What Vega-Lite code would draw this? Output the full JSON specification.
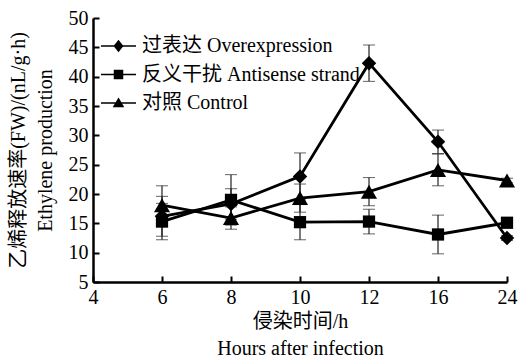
{
  "$schema": "https://vega.github.io/schema/vega-lite/v6.json",
  "autosize": {"type": "none"},
  "width": 414,
  "height": 264,
  "padding": {"left": 93, "top": 18, "right": 11, "bottom": 78},
  "background": "white",
  "config": {
    "font": "Liberation Serif, Noto Sans CJK SC",
    "view": {"stroke": null},
    "axis": {
      "labelFont": "Liberation Serif, Noto Sans CJK SC",
      "titleFont": "Liberation Serif, Noto Sans CJK SC",
      "labelFontSize": 20,
      "titleFontSize": 20,
      "titleFontWeight": "normal",
      "labelColor": "black",
      "titleColor": "black",
      "domainColor": "black",
      "domainWidth": 2.5,
      "tickColor": "black",
      "tickWidth": 2,
      "tickSize": -6,
      "grid": false,
      "titleLineHeight": 27
    },
    "legend": {
      "labelFont": "Liberation Serif, Noto Sans CJK SC",
      "labelFontSize": 20,
      "labelColor": "black",
      "labelLimit": 0
    }
  },
  "data": {
    "values": [
      {"h": "6", "series": "过表达 Overexpression", "v": 16.2, "err": 3.4},
      {"h": "8", "series": "过表达 Overexpression", "v": 18.3, "err": 2.6},
      {"h": "10", "series": "过表达 Overexpression", "v": 23.0, "err": 4.0},
      {"h": "12", "series": "过表达 Overexpression", "v": 42.3, "err": 3.1},
      {"h": "16", "series": "过表达 Overexpression", "v": 28.9, "err": 2.0},
      {"h": "24", "series": "过表达 Overexpression", "v": 12.5, "err": 0.4},
      {"h": "6", "series": "反义干扰 Antisense strand", "v": 15.3, "err": 3.1},
      {"h": "8", "series": "反义干扰 Antisense strand", "v": 19.0, "err": 4.3},
      {"h": "10", "series": "反义干扰 Antisense strand", "v": 15.2, "err": 3.0},
      {"h": "12", "series": "反义干扰 Antisense strand", "v": 15.3, "err": 2.1},
      {"h": "16", "series": "反义干扰 Antisense strand", "v": 13.1, "err": 3.3},
      {"h": "24", "series": "反义干扰 Antisense strand", "v": 15.1, "err": 0.4},
      {"h": "6", "series": "对照 Control", "v": 18.1, "err": 3.3},
      {"h": "8", "series": "对照 Control", "v": 15.9, "err": 1.9},
      {"h": "10", "series": "对照 Control", "v": 19.3, "err": 2.4},
      {"h": "12", "series": "对照 Control", "v": 20.4, "err": 2.4},
      {"h": "16", "series": "对照 Control", "v": 24.1, "err": 2.7},
      {"h": "24", "series": "对照 Control", "v": 22.3, "err": 0.4}
    ]
  },
  "encoding": {
    "x": {
      "field": "h",
      "type": "ordinal",
      "scale": {"type": "point", "domain": ["4", "6", "8", "10", "12", "16", "24"], "padding": 0},
      "axis": {"labelAngle": 0, "labelPadding": 11, "title": ["侵染时间/h", "Hours after infection"], "titlePadding": 4}
    },
    "y": {
      "field": "v",
      "type": "quantitative",
      "scale": {"domain": [5, 50], "nice": false, "zero": false},
      "axis": {"values": [5, 10, 15, 20, 25, 30, 35, 40, 45, 50], "labelPadding": 11, "title": ["乙烯释放速率(FW)/(nL/g·h)", "Ethylene production"], "titlePadding": 13}
    }
  },
  "resolve": {"scale": {"shape": "independent"}, "legend": {"shape": "independent"}},
  "layer": [
    {
      "mark": {"type": "errorbar", "ticks": {"size": 12, "color": "#222", "strokeWidth": 1.2}, "rule": {"color": "#222", "strokeWidth": 1.2}},
      "encoding": {
        "yError": {"field": "err"},
        "detail": {"field": "series"}
      }
    },
    {
      "mark": {"type": "line", "color": "black", "strokeWidth": 2.8},
      "encoding": {"detail": {"field": "series"}}
    },
    {
      "mark": {"type": "point", "filled": true, "color": "black", "opacity": 1},
      "encoding": {
        "shape": {
          "field": "series",
          "type": "nominal",
          "scale": {"domain": ["过表达 Overexpression", "反义干扰 Antisense strand", "对照 Control"], "range": ["diamond", "square", "triangle-up"]},
          "legend": null
        },
        "size": {
          "condition": [
            {"test": "datum.series === '过表达 Overexpression'", "value": 210},
            {"test": "datum.series === '反义干扰 Antisense strand'", "value": 150}
          ],
          "value": 260
        }
      }
    },
    {
      "mark": {"type": "point", "filled": true, "color": "black", "stroke": "black", "strokeWidth": 2.5, "opacity": 0},
      "encoding": {
        "shape": {
          "field": "series",
          "type": "nominal",
          "scale": {"domain": ["过表达 Overexpression", "反义干扰 Antisense strand", "对照 Control"], "range": ["M-1.75,0L1.75,0M0,-0.5L0.4,0L0,0.5L-0.4,0Z", "M-1.75,0L1.75,0M-0.4,-0.4L0.4,-0.4L0.4,0.4L-0.4,0.4Z", "M-1.75,0L1.75,0M0,-0.4L0.45,0.35L-0.45,0.35Z"]},
          "legend": {
            "title": null,
            "orient": "none",
            "legendX": 14.5,
            "legendY": 17,
            "padding": 0,
            "rowPadding": 7.5,
            "labelOffset": 12.5,
            "symbolSize": 400,
            "encode": {
              "symbols": {
                "update": {
                  "size": {"value": 400},
                  "fill": {"value": "black"},
                  "fillOpacity": {"value": 1},
                  "stroke": {"value": "black"},
                  "strokeWidth": {"value": 2.5},
                  "opacity": {"value": 1}
                }
              }
            }
          }
        }
      }
    }
  ]
}
